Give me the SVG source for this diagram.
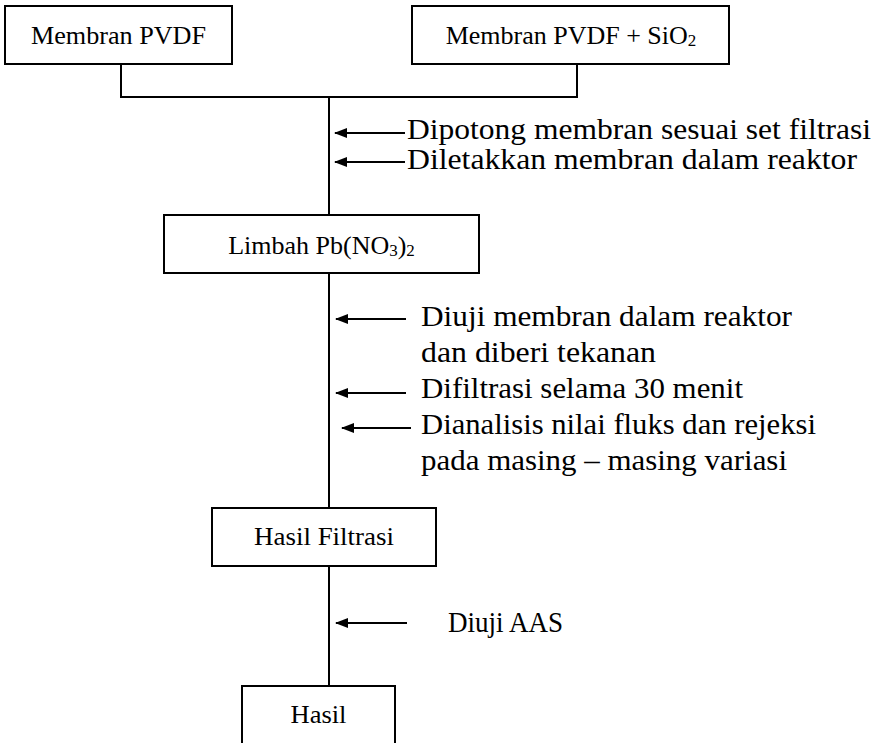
<svg xmlns="http://www.w3.org/2000/svg" width="882" height="743" viewBox="0 0 882 743">
<defs>
<style>
.box{fill:#fff;stroke:#000;stroke-width:2}
.ln{fill:none;stroke:#000;stroke-width:2}
.ar{fill:none;stroke:#000;stroke-width:2;marker-end:url(#ah)}
text{font-family:"Liberation Serif","DejaVu Serif",serif;font-size:26px;fill:#000}
.lb{font-size:30px}
.c{text-anchor:middle}
.sub{font-size:17px}
</style>
<marker id="ah" viewBox="0 0 13 10" refX="12" refY="5" markerWidth="13" markerHeight="10" markerUnits="userSpaceOnUse" orient="auto">
<path d="M0,0 L13,5 L0,10 z" fill="#000"/>
</marker>
</defs>
<rect width="882" height="743" fill="#fff"/>
<g id="connectors">
<polyline class="ln" points="121,64 121,97 577,97 577,64"/>
<line class="ln" x1="329" y1="97" x2="329" y2="215"/>
<line class="ln" x1="329" y1="273" x2="329" y2="508"/>
<line class="ln" x1="329" y1="566" x2="329" y2="686"/>
<line class="ar" x1="405" y1="133" x2="335" y2="133"/>
<line class="ar" x1="405" y1="162" x2="335" y2="162"/>
<line class="ar" x1="406" y1="319" x2="336" y2="319"/>
<line class="ar" x1="406" y1="393" x2="336" y2="393"/>
<line class="ar" x1="411" y1="428" x2="342" y2="428"/>
<line class="ar" x1="407" y1="623" x2="336" y2="623"/>
</g>
<g id="n1">
<rect class="box" x="5" y="6" width="227" height="58"/>
<text x="118.5" y="44" class="c" textLength="175" lengthAdjust="spacingAndGlyphs">Membran PVDF</text>
</g>
<g id="n2">
<rect class="box" x="412" y="6" width="317" height="58"/>
<text x="571" y="44" class="c">Membran PVDF + SiO<tspan class="sub" dy="2">2</tspan></text>
</g>
<g id="n3">
<rect class="box" x="164" y="215" width="315" height="58"/>
<text x="321.5" y="254" class="c">Limbah Pb(NO<tspan class="sub" dy="2">3</tspan><tspan dy="-2">)</tspan><tspan class="sub" dy="2">2</tspan></text>
</g>
<g id="n4">
<rect class="box" x="212" y="508" width="224" height="58"/>
<text x="324" y="545" class="c" textLength="140" lengthAdjust="spacingAndGlyphs">Hasil Filtrasi</text>
</g>
<g id="n5">
<rect class="box" x="242" y="686" width="153" height="62"/>
<text x="318.5" y="723" class="c" textLength="56" lengthAdjust="spacingAndGlyphs">Hasil</text>
</g>
<g id="labels">
<text class="lb" x="407" y="139" textLength="464" lengthAdjust="spacingAndGlyphs">Dipotong membran sesuai set filtrasi</text>
<text class="lb" x="407" y="169" textLength="450" lengthAdjust="spacingAndGlyphs">Diletakkan membran dalam reaktor</text>
<text class="lb" x="421" y="326" textLength="371" lengthAdjust="spacingAndGlyphs">Diuji membran dalam reaktor</text>
<text class="lb" x="421" y="362" textLength="235" lengthAdjust="spacingAndGlyphs">dan diberi tekanan</text>
<text class="lb" x="421" y="398" textLength="322" lengthAdjust="spacingAndGlyphs">Difiltrasi selama 30 menit</text>
<text class="lb" x="421" y="434" textLength="395" lengthAdjust="spacingAndGlyphs">Dianalisis nilai fluks dan rejeksi</text>
<text class="lb" x="421" y="470" textLength="366" lengthAdjust="spacingAndGlyphs">pada masing – masing variasi</text>
<text class="lb" x="448" y="632" textLength="115" lengthAdjust="spacingAndGlyphs">Diuji AAS</text>
</g>
</svg>
